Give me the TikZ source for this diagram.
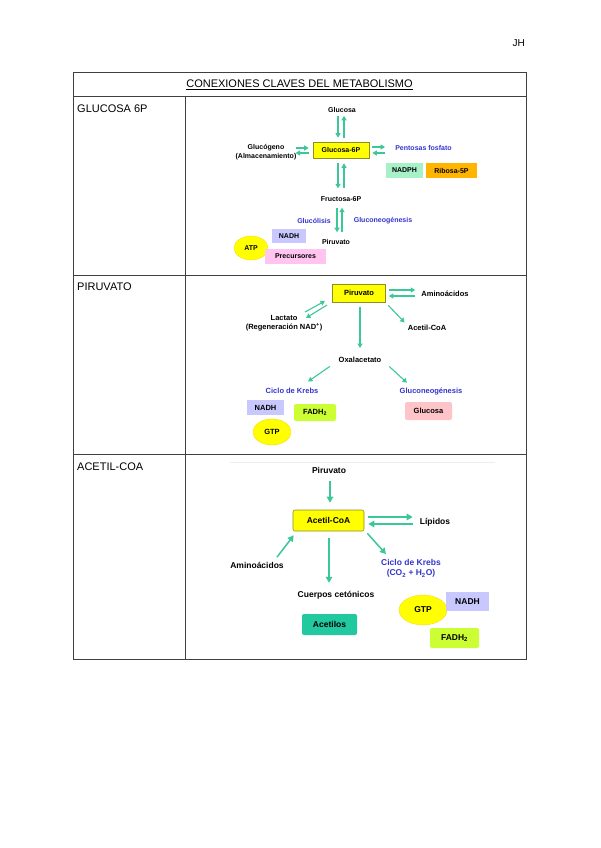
\documentclass[tikz,border=0pt]{standalone}
\usepackage{fontspec}
\setmainfont{Liberation Sans}
\usetikzlibrary{arrows.meta,calc,shapes.geometric}

\definecolor{verdeflecha}{HTML}{3CC896}
\definecolor{amarillo}{HTML}{FFFF00}
\definecolor{bordeamarillo}{HTML}{8C8C28}
\definecolor{azultexto}{HTML}{3333CC}
\definecolor{lila}{HTML}{C8C8FF}
\definecolor{menta}{HTML}{A8F0C8}
\definecolor{naranja}{HTML}{FFB400}
\definecolor{rosa}{HTML}{FFC4F0}
\definecolor{rosaclaro}{HTML}{FFC4C8}
\definecolor{lima}{HTML}{CCFF33}
\definecolor{turquesa}{HTML}{22C8A0}

\tikzset{
  flecha/.style={draw=verdeflecha, line width=1.1pt, -{Triangle[length=4.5pt,width=5pt]}},
  flechagrande/.style={draw=verdeflecha, line width=1.5pt, -{Triangle[length=6pt,width=6.5pt]}},
  rotulo/.style={font=\fontsize{11}{13}\selectfont, inner sep=1pt},
  chico/.style={font=\bfseries\fontsize{7}{8.5}\selectfont, inner sep=1pt, align=center},
  medio/.style={font=\bfseries\fontsize{7.5}{9}\selectfont, inner sep=1pt, align=center},
  grande/.style={font=\bfseries\fontsize{8.5}{10.5}\selectfont, inner sep=1pt, align=center},
  azul/.style={text=azultexto},
  caja/.style={rectangle, inner sep=0pt},
  redonda/.style={rectangle, rounded corners=2pt, inner sep=0pt},
  elipse/.style={ellipse, fill=amarillo, draw=yellow!70!orange, line width=0.3pt, inner sep=0pt},
}

\begin{document}
\begin{tikzpicture}[x=1pt,y=-1pt]
		%%%%% MARCO %%%%%
		\useasboundingbox (0,0) rectangle (600,848);
		\node[rotulo, font=\fontsize{10}{12}\selectfont, anchor=east] (jh) at (526,43) {JH};
		
		\draw[line width=1pt, color=black!75] (73,73) rectangle (526,659);
		\draw[line width=1pt, color=black!75] (73,97) -- (526,97);
		\draw[line width=1pt, color=black!75] (73,275) -- (526,275);
		\draw[line width=1pt, color=black!75] (73,454) -- (526,454);
		\draw[line width=1pt, color=black!75] (185,97) -- (185,659);
		
		\node[rotulo] (titulo) at (299.5,85) {\underline{CONEXIONES CLAVES DEL METABOLISMO}};
		\node[rotulo, anchor=west] (filaA) at (76,109) {GLUCOSA 6P};
		\node[rotulo, anchor=west] (filaB) at (76,287) {PIRUVATO};
		\node[rotulo, anchor=west] (filaC) at (76,467) {ACETIL-COA};
		
		%%%%% GLUCOSA 6P %%%%%
		\node[chico] (glc) at (342,110) {Glucosa};
		\node[chico, caja, fill=amarillo, draw=bordeamarillo, line width=0.6pt, minimum width=56, minimum height=16] (g6p) at (341,150) {Glucosa-6P};
		\node[chico] (gcg) at (266,152) {Glucógeno\\(Almacenamiento)};
		\node[chico, azul] (ptf) at (423.5,148) {Pentosas fosfato};
		\node[chico, caja, fill=menta, minimum width=37, minimum height=15] (nadph) at (404.5,170.5) {NADPH};
		\node[chico, caja, fill=naranja, minimum width=51, minimum height=15] (rib) at (451.5,170.5) {Ribosa-5P};
		\node[chico] (fru) at (341,199) {Fructosa-6P};
		\node[chico, azul] (glucolisis) at (314,221) {Glucólisis};
		\node[chico, azul] (gng1) at (383,221) {Gluconeogénesis};
		\node[chico] (pir1) at (336,242) {Piruvato};
		\node[chico, caja, fill=lila, minimum width=34, minimum height=14] (nadh1) at (289,236) {NADH};
		\node[chico, elipse, minimum width=34, minimum height=24] (atp) at (251,248) {ATP};
		\node[chico, caja, fill=rosa, minimum width=61, minimum height=15] (prec) at (295.5,256.5) {Precursores};
		
		\draw[flecha] ($(g6p.north |- glc.south)+(-3,2)$) -- ($(g6p.north)+(-3,-4)$);
		\draw[flecha] ($(g6p.north)+(3,-4)$) -- ($(g6p.north |- glc.south)+(3,2)$);
		\draw[flecha] ($(g6p.south)+(-3,5)$) -- ($(g6p.south |- fru.north)+(-3,-7)$);
		\draw[flecha] ($(g6p.south |- fru.north)+(3,-7)$) -- ($(g6p.south)+(3,5)$);
		\draw[flecha] ($(fru.south)+(-4,5)$) -- ($(fru.south |- pir1.north)+(-4,-6)$);
		\draw[flecha] ($(fru.south |- pir1.north)+(1,-6)$) -- ($(fru.south)+(1,5)$);
		\draw[flecha] ($(gcg.east |- g6p.west)+(-2,-2)$) -- ($(g6p.west)+(-4,-2)$);
		\draw[flecha] ($(g6p.west)+(-4,3)$) -- ($(gcg.east |- g6p.west)+(-2,3)$);
		\draw[flecha] ($(g6p.east)+(3,-3)$) -- ($(g6p.east -| ptf.west)+(-9,-3)$);
		\draw[flecha] ($(g6p.east -| ptf.west)+(-9,3)$) -- ($(g6p.east)+(3,3)$);
		
		%%%%% PIRUVATO %%%%%
		\node[medio, caja, fill=amarillo, draw=bordeamarillo, line width=0.6pt, minimum width=53, minimum height=18] (pir2) at (359,293) {Piruvato};
		\node[medio] (ami2) at (445,294) {Aminoácidos};
		\node[medio] (lac) at (284,323.5) {Lactato\\(Regeneración NAD\textsuperscript{+})};
		\node[medio] (acoa2) at (427,328) {Acetil-CoA};
		\node[medio] (oxa) at (360,360) {Oxalacetato};
		\node[medio, azul] (krebs2) at (292,391) {Ciclo de Krebs};
		\node[medio, azul] (gng2) at (431,392) {Gluconeogénesis};
		\node[medio, caja, fill=lila, minimum width=37, minimum height=15] (nadh2) at (265.5,407.5) {NADH};
		\node[medio, redonda, fill=lima, minimum width=42, minimum height=17] (fadh2b) at (315,412.5) {FADH\textsubscript{2}};
		\node[medio, elipse, minimum width=38, minimum height=26] (gtp2) at (272,432) {GTP};
		\node[medio, redonda, fill=rosaclaro, minimum width=47, minimum height=18] (glu2) at (428.5,411) {Glucosa};
		
		\draw[flecha] ($(pir2.east)+(3,-3)$) -- ($(pir2.east -| ami2.west)+(-5,-3)$);
		\draw[flecha] ($(pir2.east -| ami2.west)+(-5,3)$) -- ($(pir2.east)+(3,3)$);
		\draw[flecha] ($(lac.center)+(21,-11.5)$) -- ($(pir2.center)+(-34,8)$);
		\draw[flecha] ($(pir2.center)+(-32,12)$) -- ($(lac.center)+(22,-5.5)$);
		\draw[flecha] ($(pir2.south)+(1,5)$) -- ($(pir2.south |- oxa.north)+(1,-8)$);
		\draw[flecha] ($(pir2.south east)+(2.5,3)$) -- ($(acoa2.north west)+(-2,-1.5)$);
		\draw[flecha] ($(oxa.south west)+(-7.75,2.5)$) -- ($(krebs2.north)+(16,-5.5)$);
		\draw[flecha] ($(oxa.south east)+(6.75,2.5)$) -- ($(gng2.north)+(-24,-4.5)$);
		
		%%%%% ACETIL-COA %%%%%
		\draw[line width=0.5pt, color=black!7] (230,462) -- (495,462);
		
		\node[grande] (pir3) at (329,470) {Piruvato};
		\node[grande, redonda, fill=amarillo, draw=bordeamarillo, line width=0.6pt, minimum width=71, minimum height=21] (acoa3) at (328.5,520.5) {Acetil-CoA};
		\node[grande] (lip) at (435,522) {Lípidos};
		\node[grande] (ami3) at (257,565) {Aminoácidos};
		\node[grande] (cc) at (336,595) {Cuerpos cetónicos};
		\node[grande, azul] (krebs3) at (411,568.5) {Ciclo de Krebs\\(CO\textsubscript{2} + H\textsubscript{2}O)};
		\node[grande, redonda, fill=turquesa, minimum width=55, minimum height=21] (acet) at (329.5,624.5) {Acetilos};
		\node[grande, elipse, minimum width=48, minimum height=30] (gtp3) at (423,610) {GTP};
		\node[grande, caja, fill=lila, minimum width=43, minimum height=19] (nadh3) at (467.5,601.5) {NADH};
		\node[grande, redonda, fill=lima, minimum width=49, minimum height=20] (fadh3) at (454.5,638) {FADH\textsubscript{2}};
		
		\draw[flechagrande] ($(pir3.south)+(1,7)$) -- ($(acoa3.north)+(1.5,-7)$);
		\draw[flechagrande] ($(acoa3.east)+(4,-3.5)$) -- ($(acoa3.east -| lip.west)+(-6,-3.5)$);
		\draw[flechagrande] ($(acoa3.east -| lip.west)+(-6,3.5)$) -- ($(acoa3.east)+(4,3.5)$);
		\draw[flechagrande] ($(ami3.north)+(20,-3.5)$) -- ($(acoa3.south west)+(1,4)$);
		\draw[flechagrande] ($(acoa3.south)+(0.5,7)$) -- ($(acoa3.south |- cc.north)+(0.5,-7)$);
		\draw[flechagrande] ($(acoa3.south east)+(3,2)$) -- ($(krebs3.north)+(-25,-4)$);
		
	\end{tikzpicture}
\end{document}
